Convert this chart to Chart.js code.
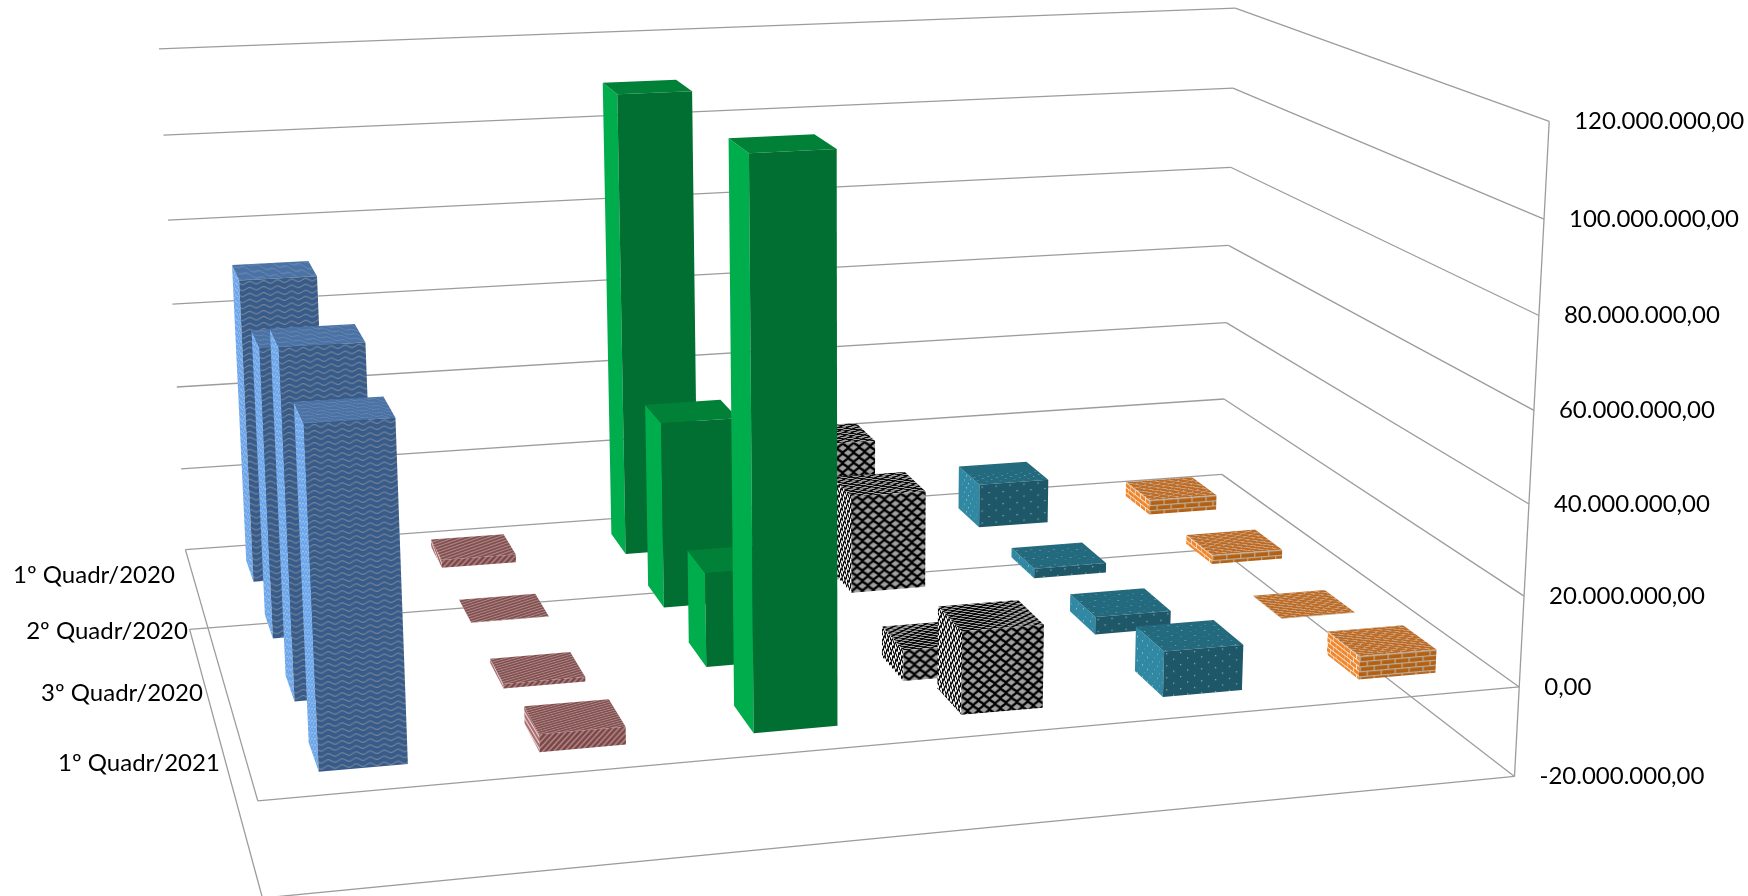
<!DOCTYPE html>
<html>
<head>
<meta charset="utf-8">
<script src="https://cdn.jsdelivr.net/npm/chart.js@4"></script>
<style>
    html, body { margin: 0; padding: 0; background: #fff; overflow: hidden; }
    canvas { display: block; }
</style>
</head>
<body>
<canvas id="chart3d" width="1748" height="896"></canvas>
<script>
const quarters = ['1º Quadr/2020', '2º Quadr/2020', '3º Quadr/2020', '1º Quadr/2021'];
const seriesNames = ['Série 1', 'Série 2', 'Série 3', 'Série 4', 'Série 5', 'Série 6'];

// one value per series
const q1_2020 = [71300000, 1900000, 110000000, 23600000, 10800000, 3700000];
const q2_2020 = [65500000, 100000, 43000000, 22800000, 2300000, 2200000];
const q3_2020 = [75600000, -1000000, 21000000, -7000000, 4000000, 100000];
const q1_2021 = [70600000, 3800000, 118800000, 18000000, 10000000, 5200000];

const axisMin = -20000000;
const axisMax = 120000000;
const axisStep = 20000000;
const barShare = 0.4;

// where the edges of the 3D box sit on the page: [across, depth, value, pageX, pageY]
const frameAnchors = [
    [0, 1, 120, 159, 49], [0, 1, 100, 163, 135], [0, 1, 80, 168, 220], [0, 1, 60, 173, 304],
    [0, 1, 40, 177, 387], [0, 1, 20, 181, 469], [0, 1, 0, 186, 549], [0, 1, -20, 189, 630],
    [1, 1, 120, 1235, 8], [1, 1, 100, 1233, 88], [1, 1, 80, 1231, 167], [1, 1, 60, 1228, 246],
    [1, 1, 40, 1226, 323], [1, 1, 20, 1224, 399], [1, 1, 0, 1222, 473], [1, 1, -20, 1220, 550],
    [1, 0, 120, 1550, 122], [1, 0, 100, 1544, 219], [1, 0, 80, 1539, 315], [1, 0, 60, 1533, 411],
    [1, 0, 0, 1519, 687], [1, 0, -20, 1515, 776],
    [0, 0, 0, 258, 802], [0, 0, -20, 262, 897]
];

// least squares camera matrix for the anchors
function solveLinear(A, b) {
    const n = b.length;
    for (let i = 0; i < n; i++) {
        let pivot = i;
        for (let r = i + 1; r < n; r++) {
            if (Math.abs(A[r][i]) > Math.abs(A[pivot][i])) pivot = r;
        }
        [A[i], A[pivot]] = [A[pivot], A[i]];
        [b[i], b[pivot]] = [b[pivot], b[i]];
        for (let r = i + 1; r < n; r++) {
            const f = A[r][i] / A[i][i];
            for (let c = i; c < n; c++) A[r][c] -= f * A[i][c];
            b[r] -= f * b[i];
        }
    }
    const x = new Array(n).fill(0);
    for (let i = n - 1; i >= 0; i--) {
        let s = b[i];
        for (let c = i + 1; c < n; c++) s -= A[i][c] * x[c];
        x[i] = s / A[i][i];
    }
    return x;
}

function fitCamera() {
    const N = 11;
    const AtA = Array.from({ length: N }, () => new Array(N).fill(0));
    const Atb = new Array(N).fill(0);
    const addRow = (row, rhs) => {
        for (let i = 0; i < N; i++) {
            Atb[i] += row[i] * rhs;
            for (let j = 0; j < N; j++) AtA[i][j] += row[i] * row[j];
        }
    };
    frameAnchors.forEach(([a, b, val, px, py]) => {
        const c = (val * 1000000 - axisMin) / (axisMax - axisMin);
        const u = px / 1000, v = py / 1000;
        addRow([a, b, c, 1, 0, 0, 0, 0, -u * a, -u * b, -u * c], u);
        addRow([0, 0, 0, 0, a, b, c, 1, -v * a, -v * b, -v * c], v);
    });
    return solveLinear(AtA, Atb);
}

const cam = fitCamera();

function project(a, b, c) {
    const w = cam[8] * a + cam[9] * b + cam[10] * c + 1;
    return {
        x: 1000 * (cam[0] * a + cam[1] * b + cam[2] * c + cam[3]) / w,
        y: 1000 * (cam[4] * a + cam[5] * b + cam[6] * c + cam[7]) / w
    };
}

// textures, one small tile per series
function makeTile(w, h, bg, paint) {
    const tile = document.createElement('canvas');
    tile.width = w;
    tile.height = h;
    const t = tile.getContext('2d');
    t.fillStyle = bg;
    t.fillRect(0, 0, w, h);
    paint(t, w, h);
    return tile;
}

const tiles = {
    wave: (fg, bg) => makeTile(14, 6, fg, (t, w) => {
        t.strokeStyle = bg;
        t.lineWidth = 0.9;
        t.beginPath();
        for (let x = 0; x <= w; x++) {
            const y = 3 + 1.4 * Math.sin(x / w * Math.PI * 2);
            if (x === 0) t.moveTo(x, y); else t.lineTo(x, y);
        }
        t.stroke();
    }),
    stripe: (fg, bg) => makeTile(6, 6, bg, (t) => {
        t.strokeStyle = fg;
        t.lineWidth = 2.8;
        t.beginPath();
        t.moveTo(-2, 2); t.lineTo(2, -2);
        t.moveTo(-2, 8); t.lineTo(8, -2);
        t.moveTo(4, 8); t.lineTo(8, 4);
        t.stroke();
    }),
    diamond: (fg, bg) => makeTile(11, 10, fg, (t) => {
        t.fillStyle = bg;
        [[0, 0], [11, 0], [0, 10], [11, 10], [5.5, 5]].forEach(([x, y]) => {
            t.beginPath();
            t.moveTo(x - 4.2, y); t.lineTo(x, y - 2.9); t.lineTo(x + 4.2, y); t.lineTo(x, y + 2.9);
            t.closePath();
            t.fill();
        });
    }),
    dots: (fg, bg) => makeTile(14, 12, fg, (t) => {
        t.fillStyle = bg;
        t.fillRect(2, 2, 1.3, 1.3);
        t.fillRect(9, 8, 1.3, 1.3);
    }),
    brick: (fg, bg) => makeTile(14, 10, fg, (t) => {
        t.fillStyle = bg;
        t.fillRect(0, 0, 14, 1.2);
        t.fillRect(0, 5, 14, 1.2);
        t.fillRect(0, 0, 1.2, 5);
        t.fillRect(7, 5, 1.2, 5);
    })
};

const seriesLook = [
    { tile: 'wave', front: ['#375b8a', '#8f9598'], side: ['#6ea6ea', '#b4d2f4'], top: ['#4a72a5', '#7490b4'] },
    { tile: 'stripe', front: ['#7c4646', '#b48f8f'], side: ['#a56d6d', '#f2d8d8'], top: ['#824e4e', '#b08e8e'] },
    { tile: null, front: ['#006f31'], side: ['#00ad4d'], top: ['#008137'] },
    { tile: 'diamond', front: ['#000000', '#a0a0a0'], side: ['#000000', '#ffffff'], top: ['#000000', '#a8a8a8'] },
    { tile: 'dots', front: ['#1d5768', '#8fa9ae'], side: ['#3188a3', '#a8d3de'], top: ['#246a7e', '#7fa9b3'] },
    { tile: 'brick', front: ['#b55f10', '#b9b0a0'], side: ['#f0852a', '#f7e6d4'], top: ['#bf6a22', '#c9a98a'] }
];

function fillFace(ctx, pts, look, tileName, e1, e2) {
    if (tileName) {
        const pattern = ctx.createPattern(tiles[tileName](look[0], look[1]), 'repeat');
        pattern.setTransform(new DOMMatrix([e1.x, e1.y, e2.x, e2.y, pts[0].x, pts[0].y]));
        ctx.fillStyle = pattern;
    } else {
        ctx.fillStyle = look[0];
    }
    ctx.beginPath();
    pts.forEach((p, i) => i ? ctx.lineTo(p.x, p.y) : ctx.moveTo(p.x, p.y));
    ctx.closePath();
    ctx.fill();
}

function drawBox(ctx, a0, a1, b0, b1, c0, c1, look) {
    const fbl = project(a0, b0, c0), fbr = project(a1, b0, c0);
    const ftl = project(a0, b0, c1), ftr = project(a1, b0, c1);
    const bbl = project(a0, b1, c0);
    const btl = project(a0, b1, c1), btr = project(a1, b1, c1);
    const size = Math.hypot(ftr.x - ftl.x, ftr.y - ftl.y);
    const across = { x: (ftr.x - ftl.x) / size, y: (ftr.y - ftl.y) / size };
    const depth = { x: (btl.x - ftl.x) / size, y: (btl.y - ftl.y) / size };
    const up = { x: 0, y: 1 };
    fillFace(ctx, [btl, ftl, fbl, bbl], look.side, look.tile, depth, up);
    fillFace(ctx, [ftl, btl, btr, ftr], look.top, look.tile, across, depth);
    fillFace(ctx, [ftl, ftr, fbr, fbl], look.front, look.tile, across, up);
}

function line3d(ctx, p, q) {
    ctx.beginPath();
    ctx.moveTo(p.x, p.y);
    ctx.lineTo(q.x, q.y);
    ctx.stroke();
}

const box3d = {
    id: 'box3d',
    beforeDatasetsDraw(chart) {
        const ctx = chart.ctx;
        const xs = chart.scales.x, ys = chart.scales.y, zs = chart.scales.depth;
        const across = (i) => (xs.getPixelForValue(i) - xs.left) / xs.width;
        const deep = (i) => (zs.getPixelForValue(i) - zs.left) / zs.width;
        const high = (v) => (ys.bottom - ys.getPixelForValue(v)) / ys.height;
        const halfA = barShare / seriesNames.length / 2;
        const halfB = barShare / quarters.length / 2;

        ctx.save();
        ctx.strokeStyle = '#9c9c9c';
        ctx.lineWidth = 1.3;
        ys.ticks.forEach((tick) => {
            const c = high(tick.value);
            line3d(ctx, project(0, 1, c), project(1, 1, c));
            line3d(ctx, project(1, 1, c), project(1, 0, c));
        });
        line3d(ctx, project(1, 0, high(axisMin)), project(1, 0, high(axisMax)));
        [axisMin, 0].forEach((v) => {
            const c = high(v);
            line3d(ctx, project(0, 1, c), project(0, 0, c));
            line3d(ctx, project(0, 0, c), project(1, 0, c));
        });

        // back rows first so the front rows cover them
        chart.data.datasets.forEach((ds, row) => {
            for (let col = ds.data.length - 1; col >= 0; col--) {
                const a = across(col), b = deep(row);
                const c0 = high(0), c1 = high(ds.data[col]);
                drawBox(ctx, a - halfA, a + halfA, b - halfB, b + halfB, Math.min(c0, c1), Math.max(c0, c1), seriesLook[col]);
            }
        });

        ctx.fillStyle = '#000';
        ctx.font = '24px Lato';
        ctx.textBaseline = 'middle';
        ctx.textAlign = 'left';
        ys.ticks.forEach((tick) => {
            const p = project(1, 0, high(tick.value));
            ctx.fillText(tick.label, p.x + 25, p.y);
        });
        ctx.textAlign = 'right';
        zs.getLabels().forEach((label, row) => {
            const b = deep(row);
            const p = project(0, b, high(0));
            ctx.fillText(label, p.x - 18 - (0.875 - b) * 12, p.y);
        });
        ctx.restore();
        return false;
    }
};

new Chart(document.getElementById('chart3d').getContext('2d'), {
    type: 'bar',
    data: {
        labels: seriesNames,
        datasets: [
            { label: quarters[0], data: q1_2020 },
            { label: quarters[1], data: q2_2020 },
            { label: quarters[2], data: q3_2020 },
            { label: quarters[3], data: q1_2021 }
        ]
    },
    options: {
        responsive: false,
        animation: false,
        events: [],
        layout: { padding: 0 },
        plugins: { legend: { display: false }, tooltip: { enabled: false } },
        scales: {
            x: { type: 'category', display: false, offset: true },
            depth: { type: 'category', axis: 'x', position: 'bottom', display: false, offset: true, reverse: true, labels: quarters },
            y: {
                type: 'linear',
                display: false,
                min: axisMin,
                max: axisMax,
                ticks: {
                    stepSize: axisStep,
                    callback: (v) => v.toLocaleString('pt-BR', { minimumFractionDigits: 2, maximumFractionDigits: 2 })
                }
            }
        }
    },
    plugins: [box3d]
});
</script>
</body>
</html>
